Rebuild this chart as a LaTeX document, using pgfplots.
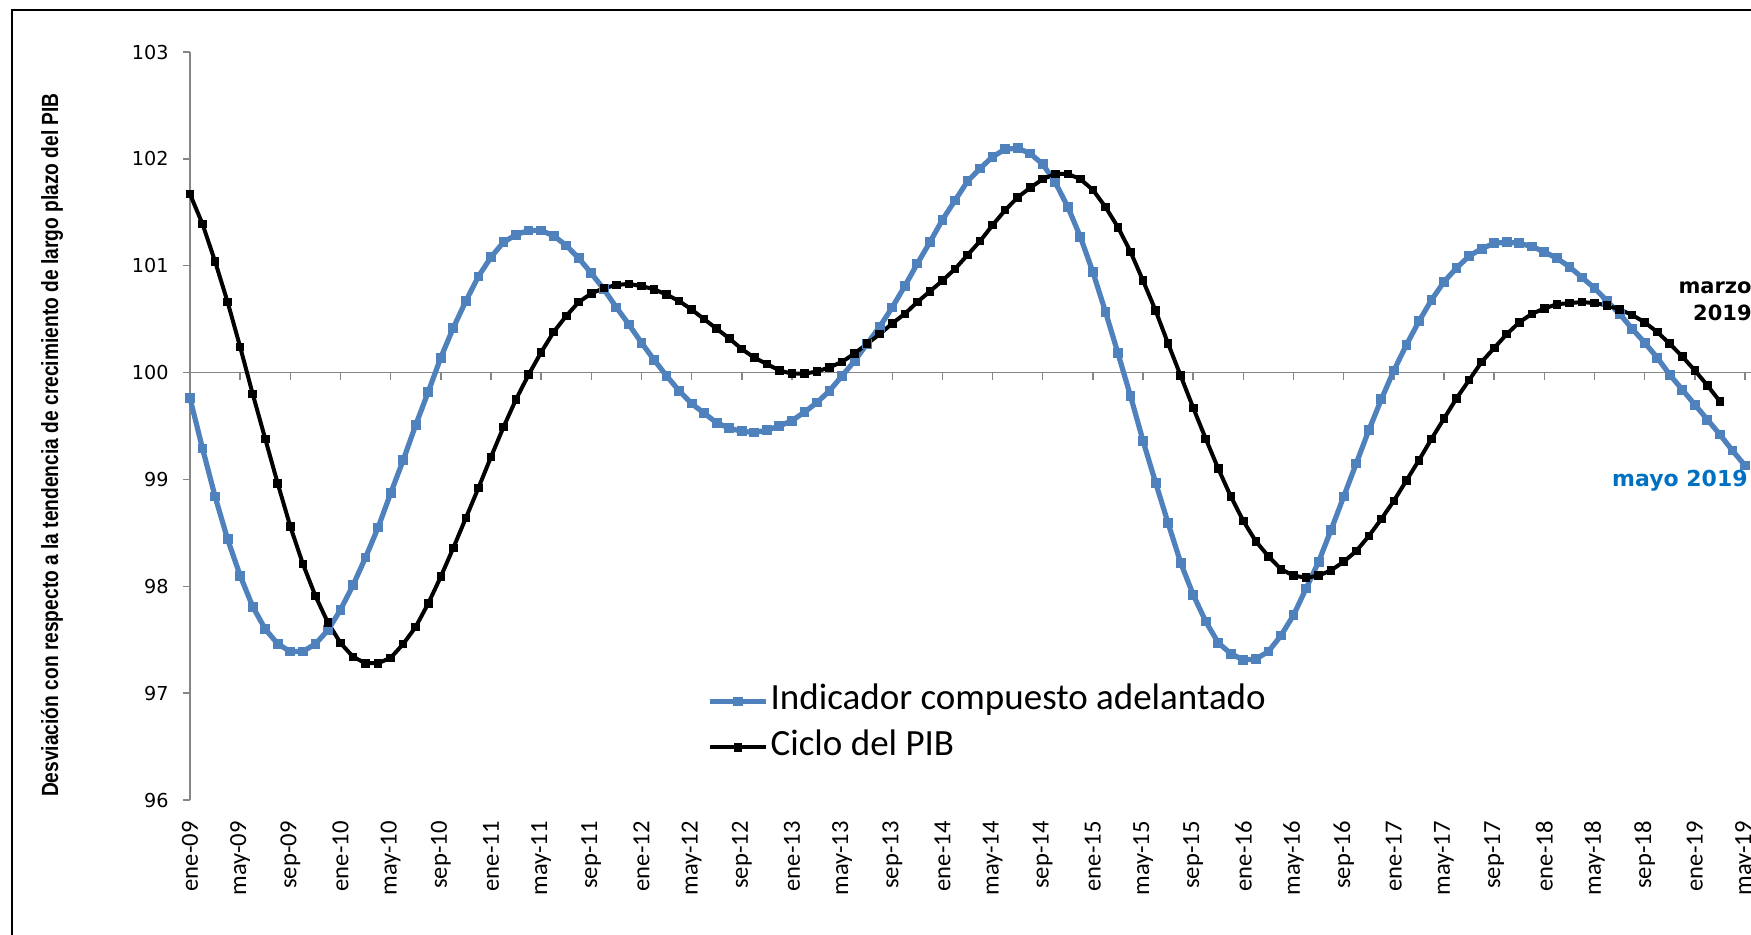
\documentclass[border=0pt]{standalone}
\usepackage{fontspec}
\setmainfont{Carlito}
\newfontfamily\verd{DejaVu Sans}
\newfontfamily\narrowb[FakeStretch=0.82]{Liberation Sans}
\usepackage{pgfplots}
\pgfplotsset{compat=1.18}
\usepackage{pgfplotstable}

\definecolor{ica}{HTML}{4F81BD}
\definecolor{ejegris}{HTML}{868686}
\definecolor{azultxt}{HTML}{0070C0}

% indice de mes: 0 = ene-09, 124 = may-19
\pgfplotstableread{
mes val
0 99.76
1 99.29
2 98.84
3 98.44
4 98.10
5 97.81
6 97.60
7 97.46
8 97.39
9 97.39
10 97.46
11 97.59
12 97.78
13 98.01
14 98.27
15 98.55
16 98.87
17 99.18
18 99.51
19 99.82
20 100.14
21 100.42
22 100.67
23 100.90
24 101.08
25 101.22
26 101.29
27 101.33
28 101.33
29 101.28
30 101.19
31 101.07
32 100.93
33 100.78
34 100.61
35 100.45
36 100.28
37 100.12
38 99.97
39 99.83
40 99.71
41 99.62
42 99.53
43 99.48
44 99.45
45 99.44
46 99.46
47 99.50
48 99.55
49 99.63
50 99.72
51 99.83
52 99.97
53 100.11
54 100.27
55 100.43
56 100.61
57 100.81
58 101.02
59 101.22
60 101.43
61 101.61
62 101.79
63 101.91
64 102.02
65 102.09
66 102.10
67 102.05
68 101.95
69 101.78
70 101.55
71 101.27
72 100.94
73 100.57
74 100.18
75 99.78
76 99.36
77 98.97
78 98.59
79 98.22
80 97.92
81 97.67
82 97.47
83 97.37
84 97.31
85 97.32
86 97.39
87 97.54
88 97.73
89 97.98
90 98.23
91 98.53
92 98.84
93 99.15
94 99.46
95 99.75
96 100.02
97 100.26
98 100.48
99 100.68
100 100.85
101 100.98
102 101.09
103 101.16
104 101.21
105 101.22
106 101.21
107 101.18
108 101.13
109 101.07
110 100.99
111 100.89
112 100.79
113 100.67
114 100.55
115 100.41
116 100.28
117 100.14
118 99.98
119 99.84
120 99.70
121 99.56
122 99.42
123 99.27
124 99.13
}\tablaica

\pgfplotstableread{
mes val
0 101.67
1 101.39
2 101.04
3 100.66
4 100.24
5 99.80
6 99.38
7 98.96
8 98.56
9 98.21
10 97.91
11 97.66
12 97.47
13 97.34
14 97.28
15 97.28
16 97.33
17 97.46
18 97.62
19 97.84
20 98.09
21 98.36
22 98.64
23 98.92
24 99.21
25 99.49
26 99.75
27 99.98
28 100.19
29 100.38
30 100.53
31 100.66
32 100.74
33 100.79
34 100.82
35 100.83
36 100.81
37 100.78
38 100.73
39 100.67
40 100.59
41 100.50
42 100.41
43 100.32
44 100.22
45 100.14
46 100.08
47 100.02
48 99.99
49 99.99
50 100.01
51 100.05
52 100.10
53 100.18
54 100.27
55 100.36
56 100.46
57 100.55
58 100.66
59 100.76
60 100.86
61 100.97
62 101.10
63 101.23
64 101.38
65 101.52
66 101.64
67 101.73
68 101.81
69 101.86
70 101.86
71 101.81
72 101.71
73 101.55
74 101.36
75 101.13
76 100.86
77 100.58
78 100.27
79 99.97
80 99.67
81 99.38
82 99.10
83 98.84
84 98.61
85 98.42
86 98.28
87 98.16
88 98.10
89 98.08
90 98.10
91 98.15
92 98.23
93 98.33
94 98.47
95 98.63
96 98.80
97 98.99
98 99.18
99 99.38
100 99.57
101 99.76
102 99.93
103 100.10
104 100.23
105 100.36
106 100.47
107 100.55
108 100.60
109 100.64
110 100.65
111 100.66
112 100.65
113 100.63
114 100.59
115 100.54
116 100.47
117 100.38
118 100.27
119 100.15
120 100.02
121 99.88
122 99.73
}\tablapib

\begin{document}
\begin{tikzpicture}
\begin{axis}[
  at={(0pt,0pt)}, anchor=south west,
  scale only axis, width=777.5pt, height=374pt,
  xmin=0, xmax=124, ymin=96, ymax=103,
  clip=false,
  axis y line*=left, axis x line*=bottom,
  axis line style={-},
  x axis line style={draw=none},
  y axis line style={draw=ejegris, line width=0.75pt},
  ytick={96,97,...,103},
  ytick style={draw=ejegris, line width=0.75pt},
  tick align=outside, major tick length=3.5pt,
  xtick={0,4,...,124},
  xtick style={draw=none},
  xticklabels={ene-09,may-09,sep-09,ene-10,may-10,sep-10,ene-11,may-11,sep-11,
    ene-12,may-12,sep-12,ene-13,may-13,sep-13,ene-14,may-14,sep-14,ene-15,may-15,
    sep-15,ene-16,may-16,sep-16,ene-17,may-17,sep-17,ene-18,may-18,sep-18,ene-19,may-19},
  xticklabel style={rotate=90, anchor=east, inner sep=0pt, font=\fontsize{12.3}{14}\selectfont},
  xticklabel shift=7pt,
  yticklabel style={inner sep=0pt, font=\verd\fontsize{9.6}{11}\selectfont},
  yticklabel shift=7pt,
  /pgf/number format/assume math mode=true,
  ylabel={Desviación con respecto a la tendencia de crecimiento de largo plazo del PIB},
  ylabel style={at={(axis description cs:-0.0887,0.4746)}, anchor=center,
    font=\narrowb\bfseries\fontsize{11.7}{14}\selectfont},
  legend style={at={(0.3325,0.101)}, anchor=west, draw=none, fill=none,
    inner sep=0pt, row sep=5pt, font=\fontsize{18.5}{22}\selectfont,
    nodes={inner sep=1pt, text height=12pt, text depth=4pt}},
  legend cell align=left,
  legend image code/.code={\draw[mark repeat=2,mark phase=2,#1]
    plot coordinates {(0pt,0pt) (14pt,0pt) (28pt,0pt)};},
]
\draw[ejegris, line width=0.75pt] (axis cs:0,100) -- (axis cs:126,100);
\pgfplotsinvokeforeach{4,8,...,124}{
  \draw[ejegris, line width=0.75pt] (axis cs:#1,100) -- ++(0pt,-3.8pt);
}
\addplot[color=ica, line width=2.6pt, line join=round, mark=square*, mark size=2.2pt,
  mark options={solid, fill=ica, draw=ica, line width=0pt}] table[x=mes, y=val] {\tablaica};
\addplot[color=black, line width=2pt, line join=round, mark=square*, mark size=1.9pt,
  mark options={solid, fill=black, line width=0pt}] table[x=mes, y=val] {\tablapib};
\legend{Indicador compuesto adelantado, Ciclo del PIB}
\node[anchor=east, inner sep=0pt, align=right, font=\verd\bfseries\fontsize{10.5}{13.5}\selectfont]
  at (axis cs:124.56,100.665) {marzo\\2019};
\node[anchor=east, inner sep=0pt, text=azultxt, font=\verd\bfseries\fontsize{11}{13}\selectfont]
  at (axis cs:124.24,98.985) {mayo 2019};
\end{axis}
\draw[line width=1pt] (-89pt,-90pt) rectangle (800pt,395pt);
\pgfresetboundingbox
\path[use as bounding box] (-95pt,-67pt) rectangle (780.5pt,400pt);
\end{tikzpicture}
\end{document}
